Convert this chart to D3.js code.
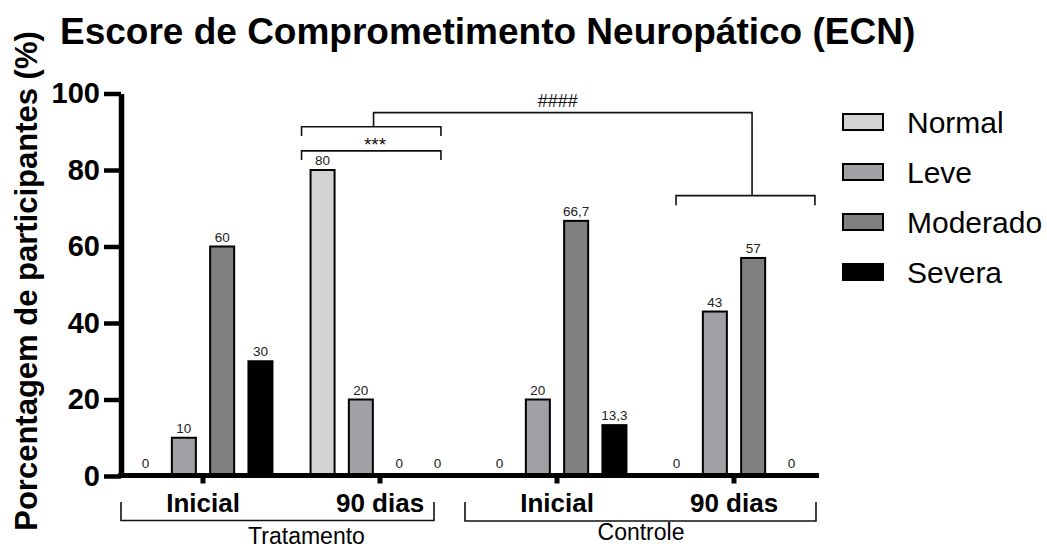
<!DOCTYPE html>
<html>
<head>
<meta charset="utf-8">
<script src="https://cdn.jsdelivr.net/npm/d3@7"></script>
<style>
  html, body { margin: 0; padding: 0; background: #fff; }
  svg { display: block; font-family: "Liberation Sans", Arial, Helvetica, sans-serif; }
</style>
</head>
<body>
<svg id="chart" width="1047" height="548"></svg>
<script>
// Escore de Comprometimento Neuropático (ECN) — percentage of participants per class
const groupLabels = ["Inicial", "90 dias", "Inicial", "90 dias"];
const conditions = ["Tratamento", "Controle"];
const seriesNames = ["Normal", "Leve", "Moderado", "Severa"];
const normal   = [0, 80, 0, 0];
const leve     = [10, 20, 20, 43];
const moderado = [60, 0, 66.7, 57];
const severa   = [30, 0, 13.3, 0];
const yTicks = [0, 20, 40, 60, 80, 100];
const seriesColors = ["#d3d3d3", "#a1a1a5", "#808080", "#000000"];

const seriesValues = [normal, leve, moderado, severa];
const ink = "#111";

const svg = d3.select("#chart");

const y = d3.scaleLinear().domain([0, 100]).range([476, 93.5]);
const x0 = d3.scaleBand().domain(d3.range(groupLabels.length)).range([114.5, 822.5]);
const x1 = d3.scaleBand().domain(seriesNames).range([0, x0.bandwidth()])
  .paddingInner(0.373).paddingOuter(0.4975);
const color = d3.scaleOrdinal().domain(seriesNames).range(seriesColors);
const fmt = v => String(v).replace(".", ",");

// Title
svg.append("text")
  .attr("x", 60).attr("y", 44)
  .attr("font-size", 37).attr("font-weight", "bold").attr("fill", "#000")
  .text("Escore de Comprometimento Neuropático (ECN)");

// Y axis title
svg.append("text")
  .attr("transform", "translate(37,281) rotate(-90)")
  .attr("text-anchor", "middle")
  .attr("font-size", 31).attr("font-weight", "bold").attr("fill", "#000")
  .text("Porcentagem de participantes (%)");

// Bars
const cells = [];
groupLabels.forEach((g, gi) => {
  seriesNames.forEach((s, si) => {
    cells.push({ group: gi, series: s, value: seriesValues[si][gi] });
  });
});

const barG = svg.append("g");
barG.selectAll("rect")
  .data(cells.filter(d => d.value > 0))
  .join("rect")
  .attr("x", d => x0(d.group) + x1(d.series))
  .attr("y", d => y(d.value))
  .attr("width", x1.bandwidth())
  .attr("height", d => y(0) - y(d.value))
  .attr("fill", d => color(d.series))
  .attr("stroke", "#000")
  .attr("stroke-width", 2);

// Value labels
svg.append("g").selectAll("text")
  .data(cells)
  .join("text")
  .attr("x", d => x0(d.group) + x1(d.series) + x1.bandwidth() / 2)
  .attr("y", d => Math.min(y(d.value), y(0) - 3) - 5)
  .attr("text-anchor", "middle")
  .attr("font-size", 13.5).attr("fill", "#222")
  .text(d => fmt(d.value));

// Y axis
const yAxis = svg.append("g")
  .attr("transform", "translate(121,0)")
  .call(d3.axisLeft(y).tickValues(yTicks).tickSize(17).tickSizeOuter(0).tickPadding(4));
yAxis.select(".domain").attr("stroke", "#000").attr("stroke-width", 5.5);
yAxis.selectAll(".tick line").attr("stroke", "#000").attr("stroke-width", 4.5);
yAxis.selectAll(".tick text")
  .attr("font-size", 29).attr("font-weight", "bold").attr("fill", "#000")
  .attr("font-family", "Liberation Sans, Arial, sans-serif");

// X axis
const xAxis = svg.append("g")
  .attr("transform", `translate(0,${y(0) - 0.5})`)
  .call(d3.axisBottom(x0).tickFormat(i => groupLabels[i]).tickSize(8).tickSizeOuter(0).tickPadding(10));
xAxis.select(".domain").remove();
xAxis.selectAll(".tick line").attr("stroke", "#000").attr("stroke-width", 5);
xAxis.selectAll(".tick text")
  .attr("font-size", 26).attr("font-weight", "bold").attr("fill", "#000")
  .attr("font-family", "Liberation Sans, Arial, sans-serif");
svg.append("line")
  .attr("x1", 118).attr("x2", 819)
  .attr("y1", y(0) - 0.5).attr("y2", y(0) - 0.5)
  .attr("stroke", "#000").attr("stroke-width", 5);

// Condition brackets under the groups
const tick = i => x0(i) + x0.bandwidth() / 2;
const condBrackets = [
  { label: conditions[0], left: tick(0) - 82, right: tick(1) + 54, base: 520.5, textX: (tick(0) + tick(1)) / 2 + 15, textY: 544 },
  { label: conditions[1], left: tick(2) - 92, right: tick(3) + 82, base: 521, textX: (tick(2) + tick(3)) / 2 - 4.5, textY: 540 }
];
const condG = svg.append("g");
condBrackets.forEach(b => {
  condG.append("path")
    .attr("d", `M${b.left},502V${b.base}H${b.right}V502`)
    .attr("fill", "none").attr("stroke", ink).attr("stroke-width", 1.6);
  condG.append("text")
    .attr("x", b.textX).attr("y", b.textY)
    .attr("text-anchor", "middle")
    .attr("font-size", 23).attr("fill", "#000")
    .text(b.label);
});

// Significance brackets
const barCenter = (g, s) => x0(g) + x1(s) + x1.bandwidth() / 2;
const sig = svg.append("g").attr("fill", "none").attr("stroke", ink).attr("stroke-width", 1.6);
const aL = barCenter(1, "Normal") - 21, aR = barCenter(1, "Severa") + 3.5;
// lower bracket over "90 dias" (Tratamento)
sig.append("path").attr("d", `M${aL},${y(82.6)}V${y(85)}H${aR}V${y(82.6)}`);
// upper bracket over the same group
sig.append("path").attr("d", `M${aL},${y(88.9)}V${y(91.3)}H${aR}V${y(88.9)}`);
// bracket over "90 dias" (Controle)
const bL = barCenter(3, "Normal") - 0.5, bR = barCenter(3, "Severa") + 23.5;
sig.append("path").attr("d", `M${bL},${y(70.8)}V${y(73.3)}H${bR}V${y(70.8)}`);
// connector between the two
const stemX = aL + 72, dropX = bL + 76;
sig.append("path").attr("d", `M${stemX},${y(91.3)}V${y(95)}H${dropX}V${y(73.3)}`);

svg.append("text")
  .attr("x", stemX + 1.5).attr("y", y(85) + 0.5)
  .attr("text-anchor", "middle").attr("font-size", 19).attr("fill", ink)
  .text("***");
svg.append("text")
  .attr("x", (stemX + dropX) / 2 - 5).attr("y", y(95) - 5.5)
  .attr("text-anchor", "middle").attr("font-size", 18).attr("fill", ink)
  .text("####");

// Legend
const legend = svg.append("g").attr("transform", "translate(843,0)");
const legendY = [122, 172, 222, 272];
seriesNames.forEach((s, i) => {
  legend.append("rect")
    .attr("x", 0).attr("y", legendY[i] - 8)
    .attr("width", 40).attr("height", 16)
    .attr("fill", color(s)).attr("stroke", "#000").attr("stroke-width", 2);
  legend.append("text")
    .attr("x", 64).attr("y", legendY[i] + 10.5)
    .attr("font-size", 30).attr("fill", "#000")
    .text(s);
});
</script>
</body>
</html>
